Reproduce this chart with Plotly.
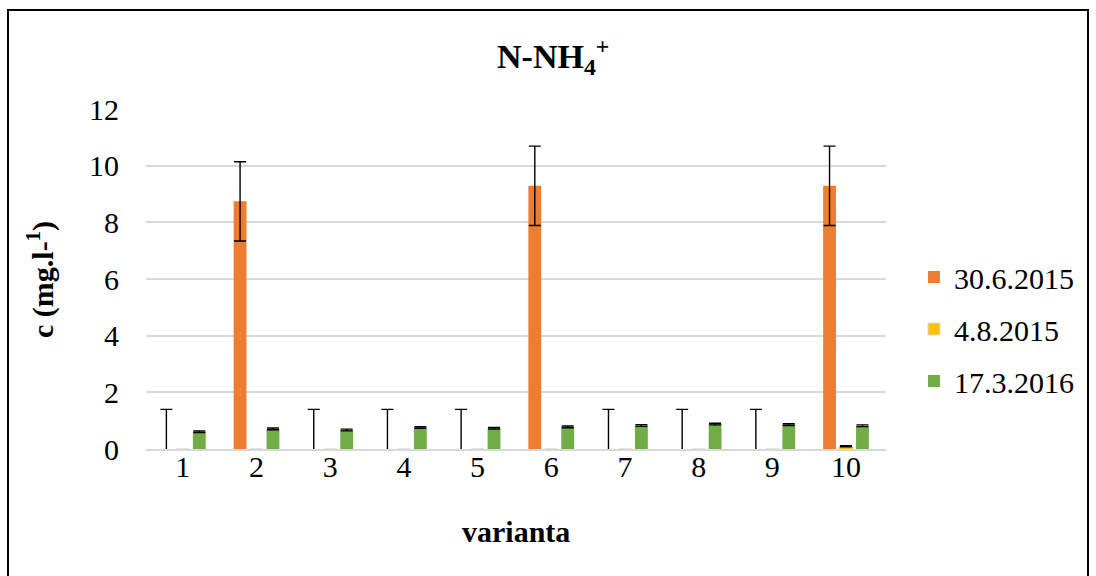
import plotly.graph_objects as go

# N-NH4+ concentrations per variant and sampling date
variants = ["1", "2", "3", "4", "5", "6", "7", "8", "9", "10"]

jun_2015 = [0, 8.74, 0, 0, 0, 9.29, 0, 0, 0, 9.29]
jun_2015_err = [1.4, 1.4, 1.4, 1.4, 1.4, 1.4, 1.4, 1.4, 1.4, 1.4]

aug_2015 = [0, 0, 0, 0, 0, 0, 0, 0, 0, 0.1]
aug_2015_err = [0, 0, 0, 0, 0, 0, 0, 0, 0, 0.02]

mar_2016 = [0.61, 0.71, 0.67, 0.76, 0.73, 0.78, 0.83, 0.88, 0.86, 0.82]
mar_2016_err = [0.03, 0.03, 0.03, 0.03, 0.03, 0.03, 0.03, 0.03, 0.03, 0.03]

series_names = ["30.6.2015", "4.8.2015", "17.3.2016"]
colors = ["#ED7D31", "#FFC000", "#70AD47"]

FONT = "Liberation Serif"

# plot-area geometry in pixels
W, H = 1096, 576
L, R, T, B = 146, 210, 109, 127
PW, PH = W - L - R, H - T - B


def px_x(x):
    return (x - L) / PW


def px_y(y):
    return (H - B - y) / PH


def err(vals):
    return dict(type="data", array=vals, visible=True, color="black",
                thickness=1.4, width=6)


fig = go.Figure()

fig.add_trace(go.Bar(
    x=variants, y=jun_2015, name=series_names[0],
    marker=dict(color=colors[0], line=dict(width=0)),
    error_y=err(jun_2015_err), legendgroup="a",
))

fig.add_trace(go.Bar(
    x=variants, y=aug_2015, name=series_names[1],
    marker=dict(color=colors[1],
                line=dict(width=1, color=["#d9d9d9" if v == 0 else colors[1] for v in aug_2015])),
    legendgroup="b",
))

# error bars of the middle series only where a deviation exists
aug_x = [v for v, e in zip(variants, aug_2015_err) if e > 0]
aug_y = [y for y, e in zip(aug_2015, aug_2015_err) if e > 0]
aug_e = [e for e in aug_2015_err if e > 0]
fig.add_trace(go.Scatter(
    x=aug_x, y=aug_y, mode="markers", marker=dict(size=0.1, color="rgba(0,0,0,0)"),
    error_y=err(aug_e), showlegend=False, hoverinfo="skip", legendgroup="b",
))

fig.add_trace(go.Bar(
    x=variants, y=mar_2016, name=series_names[2],
    marker=dict(color=colors[2], line=dict(width=0)),
    error_y=err(mar_2016_err), legendgroup="c",
))

fig.update_layout(
    width=W, height=H,
    margin=dict(l=L, r=R, t=T, b=B, autoexpand=False),
    paper_bgcolor="white", plot_bgcolor="white",
    font=dict(family=FONT, size=30, color="black"),
    barmode="group", bargap=0.33, bargroupgap=0.22,
    showlegend=True,
    legend=dict(
        x=px_x(914), y=px_y(251), xanchor="left", yanchor="top",
        font=dict(family=FONT, size=30, color="black"),
        tracegroupgap=10, traceorder="grouped",
        bgcolor="rgba(0,0,0,0)",
    ),
    xaxis=dict(
        type="category", showgrid=False, showline=True, linecolor="#d9d9d9",
        linewidth=1.5, ticks="", tickfont=dict(size=30), zeroline=False,
        ticklabelstandoff=-10,
    ),
    yaxis=dict(
        range=[0, 12], dtick=2, showgrid=True, gridcolor="#d9d9d9", gridwidth=1.5,
        showline=False, ticks="", tickfont=dict(size=30), zeroline=False,
        ticklabelstandoff=26,
    ),
    shapes=[
        dict(type="rect", xref="paper", yref="paper",
             x0=px_x(8), x1=px_x(1088), y0=px_y(585), y1=px_y(10),
             line=dict(color="black", width=2), fillcolor="rgba(0,0,0,0)", layer="below"),
    ],
    annotations=[
        dict(text="<b>N-NH<sub>4</sub><sup>+</sup></b>", xref="paper", yref="paper",
             x=px_x(553), y=px_y(56), xanchor="center", yanchor="middle",
             showarrow=False, font=dict(family=FONT, size=34, color="black")),
        dict(text="<b>c (mg.l-<sup>1</sup>)</b>", xref="paper", yref="paper",
             x=px_x(40), y=px_y(280), xanchor="center", yanchor="middle",
             textangle=-90, showarrow=False,
             font=dict(family=FONT, size=30, color="black")),
        dict(text="<b>varianta</b>", xref="paper", yref="paper",
             x=px_x(516), y=px_y(531), xanchor="center", yanchor="middle",
             showarrow=False, font=dict(family=FONT, size=30, color="black")),
    ],
)

fig.write_html("out.html")
